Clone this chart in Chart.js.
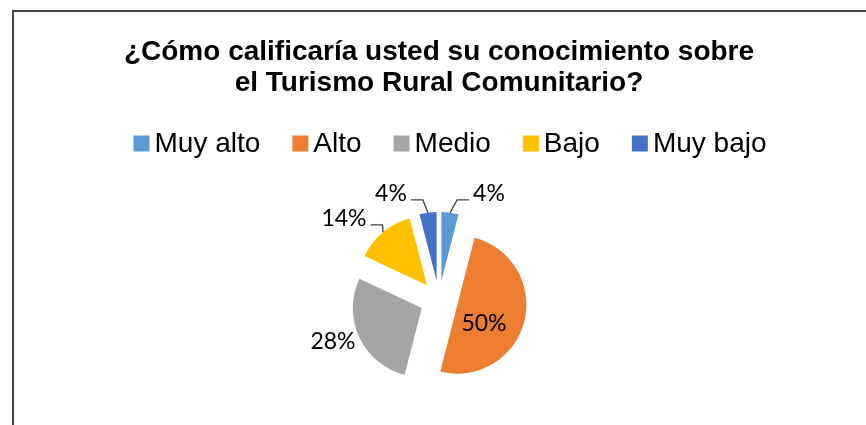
<!DOCTYPE html>
<html lang="es">
<head>
  <meta charset="UTF-8">
  <title>Conocimiento sobre el Turismo Rural Comunitario</title>
  <script src="https://cdn.jsdelivr.net/npm/chart.js"></script>
  <style>
    body { margin: 0; background: #fff; }
    #wrap { position: relative; width: 866px; height: 425px; overflow: hidden; }
    #frame { position: absolute; left: 12px; top: 10px; width: 900px; height: 500px;
             border-top: 2px solid #474747; border-left: 2px solid #474747; pointer-events: none; }
  </style>
</head>
<body>
  <div id="wrap">
    <canvas id="myChart"></canvas>
    <div id="frame"></div>
  </div>

  <script>
    // datos
    const categories = ['Muy alto', 'Alto', 'Medio', 'Bajo', 'Muy bajo'];
    const percents = [4, 50, 28, 14, 4];
    const colors = ['#5B9BD5', '#ED7D31', '#A5A5A5', '#FFC000', '#4472C4'];
    const titleLines = ['¿Cómo calificaría usted su conocimiento sobre', 'el Turismo Rural Comunitario?'];

    // dónde va cada etiqueta respecto al centro del pastel, y si lleva línea guía
    const labelOffsets = [[50, -106], [45, 24], [-106, 42], [-95, -81], [-48, -106]];
    const labelLeaders = [true, false, false, true, true];

    // separa todas las porciones del centro la misma distancia
    const explode = {
      id: 'explode',
      afterDatasetUpdate(chart, args, opts) {
        const { left, right, top, bottom } = chart.chartArea;
        const cx = (left + right) / 2, cy = (top + bottom) / 2;
        args.meta.data.forEach(arc => {
          const mid = (arc.startAngle + arc.endAngle) / 2;
          arc.x = cx + Math.cos(mid) * opts.distance;
          arc.y = cy + Math.sin(mid) * opts.distance;
        });
      }
    };

    // leyenda en una fila, cuadro pegado al texto
    const legendRow = {
      id: 'legendRow',
      afterDraw(chart, args, opts) {
        const ctx = chart.ctx;
        ctx.save();
        ctx.font = opts.font;
        ctx.textBaseline = 'alphabetic';
        ctx.textAlign = 'left';
        const widths = categories.map(c => ctx.measureText(c).width);
        const total = widths.reduce((a, w) => a + opts.box + opts.gap + w, 0) + opts.spacing * (categories.length - 1);
        let x = chart.width / 2 + opts.shift - total / 2;
        categories.forEach((c, i) => {
          ctx.fillStyle = colors[i];
          ctx.fillRect(x, opts.baseline - opts.box, opts.box, opts.box);
          ctx.fillStyle = '#000';
          ctx.fillText(c, x + opts.box + opts.gap, opts.baseline);
          x += opts.box + opts.gap + widths[i] + opts.spacing;
        });
        ctx.restore();
      }
    };

    // etiquetas de porcentaje con líneas guía
    const pieLabels = {
      id: 'pieLabels',
      afterDatasetsDraw(chart, args, opts) {
        const ctx = chart.ctx;
        const { left, right, top, bottom } = chart.chartArea;
        const cx = (left + right) / 2, cy = (top + bottom) / 2;
        const arcs = chart.getDatasetMeta(0).data;
        ctx.save();
        ctx.font = opts.font;
        ctx.textAlign = 'center';
        ctx.textBaseline = 'middle';
        arcs.forEach((arc, i) => {
          const text = percents[i] + '%';
          const tx = cx + labelOffsets[i][0], ty = cy + labelOffsets[i][1];
          if (labelLeaders[i]) {
            const mid = (arc.startAngle + arc.endAngle) / 2;
            const px = arc.x + Math.cos(mid) * arc.outerRadius;
            const py = arc.y + Math.sin(mid) * arc.outerRadius;
            const half = ctx.measureText(text).width / 2;
            const side = px > tx ? 1 : -1;
            const x0 = tx + side * (half + 4);
            const x1 = x0 + side * 12;
            const ly = ty + 6;
            ctx.beginPath();
            ctx.moveTo(x0, ly);
            ctx.lineTo(x1, ly);
            ctx.lineTo(px, py);
            ctx.strokeStyle = '#404040';
            ctx.lineWidth = 1.3;
            ctx.stroke();
          }
          ctx.fillStyle = '#000';
          ctx.fillText(text, tx, ty);
        });
        ctx.restore();
      }
    };

    const ctx = document.getElementById('myChart').getContext('2d');
    const myChart = new Chart(ctx, {
      type: 'pie',
      data: {
        labels: categories,
        datasets: [{
          data: percents,
          backgroundColor: colors,
          borderWidth: 0,
          radius: 69
        }]
      },
      options: {
        responsive: true,
        maintainAspectRatio: false,
        animation: false,
        events: [],
        layout: { padding: { top: 0, left: 12, right: 0, bottom: 5 } },
        plugins: {
          legend: { display: false },
          tooltip: { enabled: false },
          title: {
            display: true,
            text: titleLines,
            color: '#000',
            font: { family: "'Liberation Sans', Arial, sans-serif", size: 28, weight: 'bold', lineHeight: 1.08 },
            padding: { top: 37.5, bottom: 81.9 }
          },
          explode: { distance: 19 },
          legendRow: { font: "28px 'Liberation Sans', Arial, sans-serif", box: 16, gap: 5, spacing: 32, baseline: 151.5, shift: 17 },
          pieLabels: { font: "23px Lato, 'Open Sans', sans-serif" }
        }
      },
      plugins: [explode, legendRow, pieLabels]
    });
  </script>
</body>
</html>
